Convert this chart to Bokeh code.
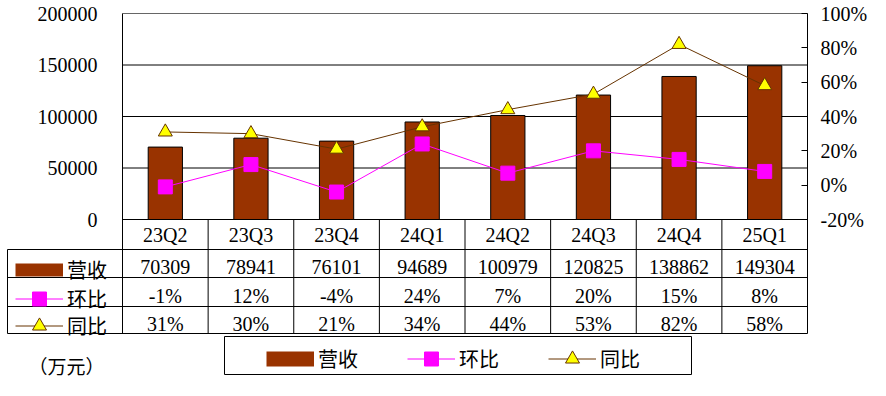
from bokeh.plotting import figure
from bokeh.models import (Range1d, LinearAxis, FixedTicker, PrintfTickFormatter,
                          NumeralTickFormatter, Label, Legend, LegendItem)
from bokeh.core.properties import value
from bokeh.embed import file_html
from bokeh.resources import INLINE

# ---------------- data ----------------
quarters = ["23Q2", "23Q3", "23Q4", "24Q1", "24Q2", "24Q3", "24Q4", "25Q1"]
revenue = [70309, 78941, 76101, 94689, 100979, 120825, 138862, 149304]   # 万元
qoq = [-1, 12, -4, 24, 7, 20, 15, 8]      # 环比 %
yoy = [31, 30, 21, 34, 44, 53, 82, 58]    # 同比 %
left_ticks = [0, 50000, 100000, 150000, 200000]
right_ticks = [-20, 0, 20, 40, 60, 80, 100]
series_names = ["营收", "环比", "同比"]
unit_text = "（万元）"

# ---------------- styles ----------------
BAR_COLOR = "#993300"
QOQ_COLOR = "#FF00FF"
YOY_LINE = "#663300"
YOY_FILL = "#FFFF00"
NUM_FONT = value("Liberation Serif")
CJK_FONT = "Noto Sans CJK SC"
FS = "20px"

# ---------------- layout (canvas pixels) ----------------
W, H = 886, 396
PX0, PX1 = 122, 807      # plot area left / right
PY0, PY1 = 13, 219       # plot area top (200000 / 100%) / bottom (0 / -20%)
LMAX = 200000
PMIN, PMAX = -20, 100
n = len(quarters)
NAN = float("nan")


def ydata(py):
    return LMAX - (py - PY0) * LMAX / (PY1 - PY0)


def pdata(py):
    return PMAX - (py - PY0) * (PMAX - PMIN) / (PY1 - PY0)


def xdata(px):
    return (px - PX0) * n / (PX1 - PX0)


# the frame fills the whole canvas; the axes are pinned at the plot-area edges
p = figure(width=W, height=H, output_backend="svg", toolbar_location=None, tools="",
           x_range=Range1d(xdata(0), xdata(W)), y_range=Range1d(ydata(H), ydata(0)),
           x_axis_location=None,
           min_border_left=0, min_border_right=0, min_border_top=0, min_border_bottom=0)
p.outline_line_color = None
p.background_fill_color = "white"
p.border_fill_color = "white"
p.extra_y_ranges = {"pct": Range1d(pdata(H), pdata(0))}
p.xgrid.visible = False
p.ygrid.visible = False

# left axis
ax = p.yaxis[0]
ax.fixed_location = 0
ax.ticker = FixedTicker(ticks=left_ticks)
ax.formatter = NumeralTickFormatter(format="0")
ax.axis_line_color = None
ax.major_tick_line_color = None
ax.minor_tick_line_color = None
ax.major_label_text_font = "Liberation Serif"
ax.major_label_text_font_size = FS
ax.major_label_text_color = "black"
ax.major_label_standoff = 19

# right axis
rax = LinearAxis(y_range_name="pct", fixed_location=n,
                 ticker=FixedTicker(ticks=right_ticks),
                 formatter=PrintfTickFormatter(format="%d%%"))
rax.axis_line_color = None
rax.major_tick_in = 6
rax.major_tick_out = 0
rax.major_tick_line_color = "black"
rax.minor_tick_line_color = None
rax.major_label_text_font = "Liberation Serif"
rax.major_label_text_font_size = FS
rax.major_label_text_color = "black"
rax.major_label_standoff = 13
p.add_layout(rax, "right")

xs = [i + 0.5 for i in range(n)]

# horizontal gridlines of the plot area (from the left-axis ticks)
inner = left_ticks[:-1]
p.segment(x0=[0] * len(inner), x1=[n] * len(inner), y0=inner, y1=inner,
          line_color="black", line_width=1)
p.segment(x0=[0], x1=[n], y0=[left_ticks[-1]], y1=[left_ticks[-1]],
          line_color="#666666", line_width=1)

# ---------------- series ----------------
bars = p.vbar(x=xs, top=revenue, bottom=0, width=0.4,
              fill_color=BAR_COLOR, line_color="black", line_width=1)
qoq_line = p.line(xs, qoq, y_range_name="pct", line_color=QOQ_COLOR, line_width=1)
qoq_pts = p.scatter(xs, qoq, y_range_name="pct", marker="square", size=14,
                    fill_color=QOQ_COLOR, line_color=QOQ_COLOR)
yoy_line = p.line(xs, yoy, y_range_name="pct", line_color=YOY_LINE, line_width=1)
yoy_pts = p.scatter(xs, yoy, y_range_name="pct", marker="triangle", size=14,
                    fill_color=YOY_FILL, line_color=YOY_LINE, line_width=1)
# legend keys for the bar series (a band like Excel's legend key); no visible data
bar_key = p.line([NAN], [NAN], line_color=BAR_COLOR, line_width=15)
bar_key_small = p.line([NAN], [NAN], line_color=BAR_COLOR, line_width=13)

# ---------------- plot-area borders & data table grid ----------------
row_lines = [249, 277, 306, 333]
p.segment(x0=[0, n], x1=[0, n], y0=[ydata(333)] * 2, y1=[LMAX] * 2,
          line_color="black", line_width=1)
p.segment(x0=list(range(1, n)), x1=list(range(1, n)), y0=[ydata(333)] * (n - 1),
          y1=[0] * (n - 1), line_color="black", line_width=1)
p.segment(x0=[xdata(7)] * len(row_lines), x1=[n] * len(row_lines),
          y0=[ydata(r) for r in row_lines], y1=[ydata(r) for r in row_lines],
          line_color="black", line_width=1)
p.segment(x0=[xdata(7)], x1=[xdata(7)], y0=[ydata(249)], y1=[ydata(333)],
          line_color="black", line_width=1)

# ---------------- table texts ----------------
def row_text(texts, py):
    p.text(x=xs, y=[ydata(py)] * n, text=texts, text_align="center",
           text_baseline="middle", text_font=NUM_FONT, text_font_size=FS,
           text_color="black")

row_text(quarters, 234)
row_text([str(v) for v in revenue], 266)
row_text([f"{v}%" for v in qoq], 295)
row_text([f"{v}%" for v in yoy], 323)

# ---------------- legends ----------------
def mk_legend(items, x_px, cy_px, orientation="vertical", spacing=0):
    lg = Legend(items=items, orientation=orientation, spacing=spacing,
                location=(x_px, H - cy_px - 17.5),
                glyph_width=48, glyph_height=35, label_standoff=4, padding=0,
                border_line_color=None, background_fill_alpha=0,
                label_text_font=CJK_FONT, label_text_font_size=FS,
                label_text_color="black", label_text_baseline="middle")
    p.add_layout(lg)
    return lg

# main legend (outer box as in the original)
p.quad(left=xdata(224), right=xdata(691), top=ydata(336), bottom=ydata(374),
       fill_alpha=0, line_color="black", line_width=1)
mk_legend([LegendItem(label=series_names[0], renderers=[bar_key]),
           LegendItem(label=series_names[1], renderers=[qoq_line, qoq_pts]),
           LegendItem(label=series_names[2], renderers=[yoy_line, yoy_pts])],
          266, 358, orientation="horizontal", spacing=49)

# row-header keys of the data table
mk_legend([LegendItem(label=series_names[0], renderers=[bar_key_small])], 15, 269)
mk_legend([LegendItem(label=series_names[1], renderers=[qoq_line, qoq_pts])], 15, 298)
mk_legend([LegendItem(label=series_names[2], renderers=[yoy_line, yoy_pts])], 15, 325)

# unit note
p.add_layout(Label(x=28, y=H - 365, x_units="screen", y_units="screen",
                   text=unit_text, text_font=CJK_FONT, text_font_size="19px",
                   text_color="black", text_baseline="middle"))

open("out.html", "w").write(file_html(p, INLINE))
